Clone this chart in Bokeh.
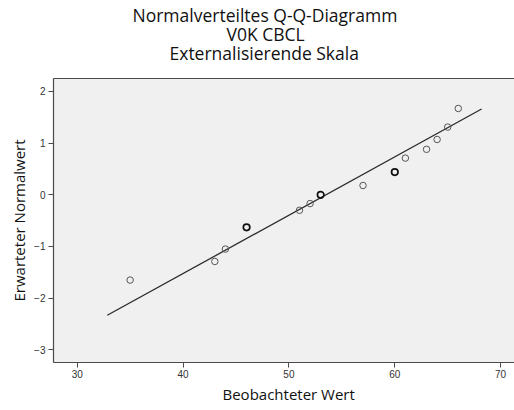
from bokeh.plotting import figure
from bokeh.models import Range1d, LinearAxis, FixedTicker, Title, ColumnDataSource
from bokeh.embed import file_html
from bokeh.resources import INLINE

# Observed CBCL externalising scores and their expected normal quantiles
observed = [35, 43, 44, 46, 51, 52, 53, 57, 60, 61, 63, 64, 65, 66]
expected = [-1.65, -1.29, -1.05, -0.63, -0.30, -0.17, 0.00, 0.18, 0.44, 0.71, 0.88, 1.07, 1.31, 1.67]
ties = [1, 1, 1, 2, 1, 1, 2, 1, 2, 1, 1, 1, 1, 1]

# Reference line z = (x - mean) / sd
fit_mean = 53.5
fit_sd = 8.86
fit_x = [32.84, 68.2]

x_ticks = [30, 40, 50, 60, 70]
y_ticks = [-3, -2, -1, 0, 1, 2]

title_lines = ["Normalverteiltes Q-Q-Diagramm", "V0K CBCL", "Externalisierende Skala"]
x_label = "Beobachteter Wert"
y_label = "Erwarteter Normalwert"

LABEL_FONT = "Open Sans"
TICK_FONT = "Liberation Sans"

p = figure(
    width=514, height=410,
    x_range=Range1d(27.76, 71.31), y_range=Range1d(-3.245, 2.25),
    output_backend="svg", toolbar_location=None, title=None,
    min_border_left=53, min_border_right=0, min_border_top=77, min_border_bottom=48,
    background_fill_color="#f0f0f0", border_fill_color="white",
)
p.outline_line_color = None
p.grid.visible = False

for ax in (p.xaxis[0], p.yaxis[0]):
    ax.axis_line_color = "#4a4a4a"
    ax.axis_line_width = 1.2
    ax.major_tick_line_color = "#4a4a4a"
    ax.major_tick_in = 0
    ax.major_tick_out = 5
    ax.minor_tick_line_color = None
    ax.major_label_text_font = TICK_FONT
    ax.major_label_text_font_size = "10px"
    ax.major_label_text_color = "#333333"
    ax.axis_label_text_font = LABEL_FONT
    ax.axis_label_text_font_size = "15px"
    ax.axis_label_text_font_style = "normal"
    ax.axis_label_text_color = "#111111"

p.xaxis[0].ticker = FixedTicker(ticks=x_ticks)
p.yaxis[0].ticker = FixedTicker(ticks=y_ticks)
p.yaxis[0].axis_label = y_label
p.xaxis[0].major_label_standoff = 2
p.yaxis[0].major_label_standoff = 3
p.yaxis[0].axis_label_standoff = 2

# Top frame line; a blank caption keeps a small gap below the heading
top = LinearAxis(ticker=FixedTicker(ticks=[]), axis_line_color="#4a4a4a", axis_line_width=1.2,
                 major_tick_line_color=None, minor_tick_line_color=None,
                 major_label_text_font_size="0px", major_tick_out=0, major_label_standoff=0,
                 axis_label=" ", axis_label_standoff=0, axis_label_text_font=LABEL_FONT,
                 axis_label_text_font_size="8px", axis_label_text_color="white")
p.add_layout(top, "above")

# Heading lines (left-anchored, shifted so they share one centre), innermost first
title_style = dict(align="left", text_font=LABEL_FONT, text_font_style="normal",
                   text_color="#111111")
for line, shift, gap in zip(reversed(title_lines), [116, 173, 79], [0, -14, 0]):
    p.add_layout(Title(text=line, offset=shift, standoff=gap, text_font_size="17.5px",
                       **title_style), "above")

# x-axis caption
p.add_layout(Title(text=x_label, offset=169, standoff=3, text_font_size="15px",
                   **title_style), "below")

# Normal reference line
fit_y = [(v - fit_mean) / fit_sd for v in fit_x]
p.line(fit_x, fit_y, line_color="#2b2b2b", line_width=1.3)

src = ColumnDataSource(dict(
    x=observed, y=expected,
    lw=[1.0 if t == 1 else 1.7 for t in ties],
    col=["#555555" if t == 1 else "#111111" for t in ties],
))
p.scatter("x", "y", source=src, marker="circle", size=6.5, fill_color=None,
          line_color="col", line_width="lw")

open("out.html", "w").write(file_html(p, INLINE))
